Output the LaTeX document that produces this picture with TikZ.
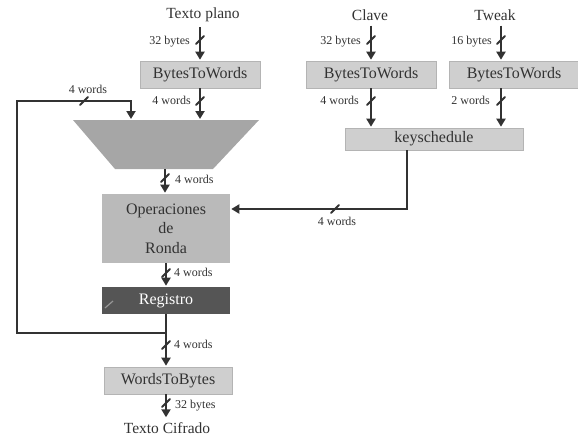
\documentclass[tikz,border=0pt]{standalone}
\usepackage{fontspec}
\setmainfont{Liberation Serif}
\usetikzlibrary{arrows.meta,calc}
\definecolor{ink}{RGB}{50,50,50}
\definecolor{boxgray}{RGB}{207,207,207}
\definecolor{boxedge}{RGB}{180,180,180}
\definecolor{opsgray}{RGB}{186,186,186}
\definecolor{trapgray}{RGB}{166,166,166}
\definecolor{reggray}{RGB}{85,85,85}
\newcommand\busmark[1]{\draw[bus] ($(#1)+(-4,4)$) -- ($(#1)+(4,-4)$);}
\begin{document}
\begin{tikzpicture}[x=1pt,y=-1pt,
  wire/.style={draw=ink, line width=2.2pt},
  arr/.style={wire, -{Triangle[width=9pt,length=8pt]}, shorten >=1pt},
  bus/.style={draw=ink, line width=1.8pt, line cap=round},
  blk/.style={fill=boxgray, draw=boxedge, line width=0.6pt, inner sep=0pt,
    minimum height=27pt, text=ink, font=\fontsize{16}{18}\selectfont},
  ttl/.style={text=ink, inner sep=1pt, font=\fontsize{15.5}{18}\selectfont},
  lbl/.style={text=ink, inner sep=0pt, font=\fontsize{12}{14}\selectfont}]
\useasboundingbox (0,0) rectangle (578,439);

% inputs
\node[ttl] (tp) at (203,15) {Texto plano};
\node[ttl] (cl) at (370,15) {Clave};
\node[ttl] (tw) at (495,15) {Tweak};

% conversion blocks
\node[blk, minimum width=120pt] (b1) at (200,74.5) {BytesToWords};
\node[blk, minimum width=130pt] (b2) at (371,74.5) {BytesToWords};
\node[blk, minimum width=130pt] (b3) at (514,74.5) {BytesToWords};
\node[blk, minimum width=178pt, minimum height=22pt] (ks) at (434,139) {keyschedule};

% multiplexer
\fill[trapgray] (73,120) -- (259,120) -- (213,169) -- (115,169) -- cycle;
\coordinate (mixin) at (200,120);
\coordinate (fbin) at (131,120);
\coordinate (mixout) at (165,169);

% round datapath
\node[blk, fill=opsgray, draw=none, minimum width=128pt, minimum height=69pt,
  align=center, font=\fontsize{16}{19.5}\selectfont] (ops) at (166,228.5)
  {Operaciones\\de\\Ronda};
\node[blk, fill=reggray, draw=none, text=white, minimum width=128pt] (reg) at (166,300.5) {Registro};
\draw[draw={rgb,255:red,150;green,150;blue,150}, line width=1.2pt] (105,308) -- (113,301);
\node[blk, minimum width=128pt] (w2b) at (168,380.5) {WordsToBytes};
\node[ttl] (tc) at (167,428) {Texto Cifrado};

% input arrows
\draw[arr] ([yshift=-4pt]tp.south -| b1.north) -- (b1.north);
\draw[arr] ([yshift=-4pt]cl.south -| b2.north) coordinate (c2) -- (b2.north);
\draw[arr] ([yshift=-4pt]tw.south -| 501,0) -- (b3.north -| 501,0);
\busmark{200,40}
\busmark{371,40}
\busmark{501,40}
\node[lbl, anchor=east] (l1) at (190,42) {32 bytes};
\node[lbl, anchor=east] (l2) at (361,42) {32 bytes};
\node[lbl, anchor=east] (l3) at (492,42) {16 bytes};

% word arrows
\draw[arr] (b1.south) -- (mixin);
\draw[arr] (b2.south -| 371,0) -- (ks.north -| 371,0);
\draw[arr] (b3.south -| 501,0) -- (ks.north -| 501,0);
\busmark{200,101}
\busmark{371,101}
\busmark{501,101}
\node[lbl, anchor=east] (l4) at (191,100) {4 words};
\node[lbl, anchor=east] (l5) at (359,100) {4 words};
\node[lbl, anchor=east] (l6) at (490,100) {2 words};

% multiplexer to round operations
\draw[arr] (mixout) -- (ops.north -| mixout);
\busmark{165,178}
\node[lbl, anchor=west] (l7) at (175,179) {4 words};

% round key
\coordinate (kc) at (407,209);
\draw[arr] (ks.south -| kc) -- (kc) -- (ops.east |- kc);
\busmark{335,209}
\node[lbl] (l8) at (337,221) {4 words};

% round operations to register
\draw[arr] (ops.south) -- (reg.north);
\busmark{166,273}
\node[lbl, anchor=west] (l9) at (174,272) {4 words};

% register output and feedback
\coordinate (junc) at (166,333);
\coordinate (fbl) at (17,333);
\coordinate (fbt) at (17,101);
\coordinate (fbr) at (131,101);
\draw[wire] (reg.south) -- (junc);
\draw[arr] (junc) -- (w2b.north -| junc);
\draw[arr, line join=miter] (junc) -- (fbl) -- (fbt) -- (fbr) -- (fbin);
\busmark{84,101}
\node[lbl] (l10) at (88,89) {4 words};
\busmark{166,345}
\node[lbl, anchor=west] (l11) at (174,344) {4 words};

% output
\draw[arr] (w2b.south -| junc) -- ([yshift=3pt]tc.north -| junc);
\busmark{166,403}
\node[lbl, anchor=west] (l12) at (175,406) {32 bytes};
\end{tikzpicture}
\end{document}
